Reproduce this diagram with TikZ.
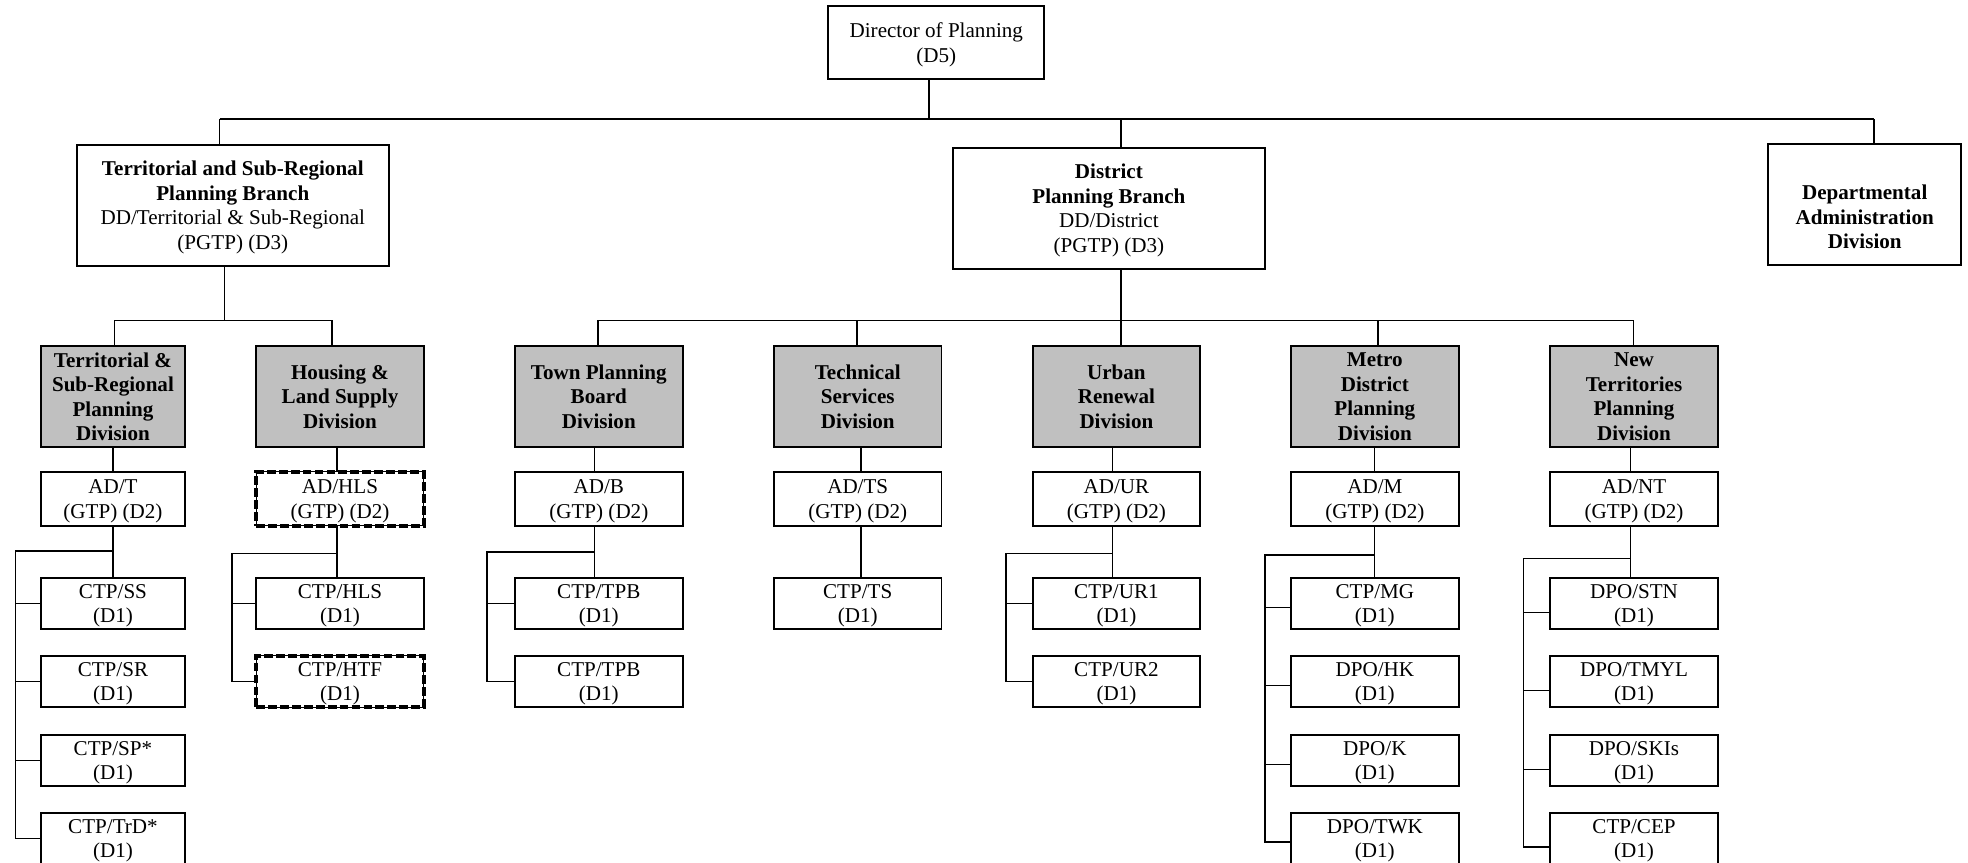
\documentclass[tikz,border=0pt]{standalone}
\usepackage{fontspec}
\setmainfont{Liberation Serif}
\definecolor{divgray}{HTML}{C0C0C0}
\newcommand{\fsz}{\fontsize{16.8}{19.5}\selectfont}
\begin{document}
\begin{tikzpicture}[x=1pt,y=-1pt,
  box/.style={draw, line width=1.5pt, inner sep=0pt, align=center, font=\fsz, fill=white},
  divbox/.style={box, fill=divgray, font=\fsz\bfseries, minimum width=133.5pt, minimum height=80pt},
  adbox/.style={box, minimum width=133.5pt, minimum height=43pt, text depth=-8pt},
  dbox/.style={box, minimum width=133.5pt, minimum height=41pt, text depth=-5pt},
  hatched/.style={line width=0.8pt, postaction={draw, line width=3.5pt, dash pattern=on 7pt off 2.5pt}},
  conn/.style={line width=1.2pt},
  bus/.style={line width=2pt}]
\useasboundingbox (0,0) rectangle (1568,687);

% ---- top level
\node[box, minimum width=172pt, minimum height=58pt, text depth=0.5pt] (dir) at (746,34) {Director of Planning\\(D5)};
\node[box, minimum width=249pt, minimum height=96pt, text depth=-2pt] (tsrb) at (185.5,163.6)
  {\textbf{Territorial and Sub-Regional}\\\textbf{Planning Branch}\\DD/Territorial \& Sub-Regional\\(PGTP) (D3)};
\node[box, minimum width=249pt, minimum height=96pt, text depth=-1.5pt] (dpb) at (883.5,166)
  {\textbf{District}\\\textbf{Planning Branch}\\DD/District\\(PGTP) (D3)};
\node[box, minimum width=153.5pt, minimum height=96pt] (dept) at (1485.7,163) {};
\node[font=\fsz\bfseries, align=center, inner sep=0pt] (deptlbl) at ([yshift=-10pt]dept.center)
  {Departmental\\Administration\\Division};

% ---- divisions
\node[divbox, minimum width=114.6pt] (tsrd) at (90,316) {Territorial \&\\Sub-Regional\\Planning\\Division};
\node[divbox] (hlsd) at (270.9,316) {Housing \&\\Land Supply\\Division};
\node[divbox] (tpbd) at (477.1,316) {Town Planning\\Board\\Division};
\node[divbox] (tsd) at (683.4,316) {Technical\\Services\\Division};
\node[divbox] (urd) at (889.5,316) {Urban\\Renewal\\Division};
\node[divbox] (md) at (1095.4,316) {Metro\\District\\Planning\\Division};
\node[divbox] (ntd) at (1301.9,316) {New\\Territories\\Planning\\Division};

% ---- AD row
\node[adbox, minimum width=114.6pt] (adt) at (90,397.5) {AD/T\\(GTP) (D2)};
\node[adbox, hatched] (adhls) at (270.9,397.5) {AD/HLS\\(GTP) (D2)};
\node[adbox] (adb) at (477.1,397.5) {AD/B\\(GTP) (D2)};
\node[adbox] (adts) at (683.4,397.5) {AD/TS\\(GTP) (D2)};
\node[adbox] (adur) at (889.5,397.5) {AD/UR\\(GTP) (D2)};
\node[adbox] (adm) at (1095.4,397.5) {AD/M\\(GTP) (D2)};
\node[adbox] (adnt) at (1301.9,397.5) {AD/NT\\(GTP) (D2)};

% ---- D1 rows
\node[dbox, minimum width=114.6pt] (ss) at (90,481) {CTP/SS\\(D1)};
\node[dbox, minimum width=114.6pt] (sr) at (90,543) {CTP/SR\\(D1)};
\node[dbox, minimum width=114.6pt] (sp) at (90,606) {CTP/SP*\\(D1)};
\node[dbox, minimum width=114.6pt] (trd) at (90,668) {CTP/TrD*\\(D1)};

\node[dbox] (chls) at (270.9,481) {CTP/HLS\\(D1)};
\node[dbox, hatched] (htf) at (270.9,543) {CTP/HTF\\(D1)};

\node[dbox] (tpba) at (477.1,481) {CTP/TPB\\(D1)};
\node[dbox] (tpbb) at (477.1,543) {CTP/TPB\\(D1)};

\node[dbox] (cts) at (683.4,481) {CTP/TS\\(D1)};

\node[dbox] (ura) at (889.5,481) {CTP/UR1\\(D1)};
\node[dbox] (urb) at (889.5,543) {CTP/UR2\\(D1)};

\node[dbox] (mg) at (1095.4,481) {CTP/MG\\(D1)};
\node[dbox] (hk) at (1095.4,543) {DPO/HK\\(D1)};
\node[dbox] (kk) at (1095.4,606) {DPO/K\\(D1)};
\node[dbox] (twk) at (1095.4,668) {DPO/TWK\\(D1)};

\node[dbox] (stn) at (1301.9,481) {DPO/STN\\(D1)};
\node[dbox] (tmyl) at (1301.9,543) {DPO/TMYL\\(D1)};
\node[dbox] (skis) at (1301.9,606) {DPO/SKIs\\(D1)};
\node[dbox] (cep) at (1301.9,668) {CTP/CEP\\(D1)};

% ---- top connectors
\coordinate (t1) at (175,95);
\coordinate (t2) at (1493,95);
\coordinate (xdir) at (740,95);
\coordinate (xdpb) at (893,95);
\draw[bus] (t1) -- (t2);
\draw[conn] (dir.south -| xdir) -- (xdir);
\draw[conn] (t1) -- (tsrb.north -| t1);
\draw[conn] (xdpb) -- (dpb.north -| xdpb);
\draw[conn] (t2) -- (dept.north -| t2);

% ---- branch to divisions
\coordinate (b1a) at (91.4,255.5);
\coordinate (b1b) at (264.6,255.5);
\coordinate (b1m) at (179,255.5);
\draw[conn] (tsrb.south -| b1m) -- (b1m);
\draw[conn] (tsrd.north -| b1a) -- (b1a) -- (b1b) -- (hlsd.north -| b1b);

\coordinate (b2a) at (476.5,255.5);
\coordinate (b2b) at (1301.6,255.5);
\coordinate (b2m) at (893,255.5);
\coordinate (b2ts) at (683,255.5);
\coordinate (b2md) at (1098,255.5);
\draw[conn] (dpb.south -| b2m) -- (urd.north -| b2m);
\draw[conn] (tpbd.north -| b2a) -- (b2a) -- (b2b) -- (ntd.north -| b2b);
\draw[conn] (b2ts) -- (tsd.north -| b2ts);
\draw[conn] (b2md) -- (md.north -| b2md);

% ---- column connectors
\coordinate (cT) at (90,0);
\coordinate (cH) at (268.5,0);
\coordinate (cB) at (473.5,0);
\coordinate (cS) at (686,0);
\coordinate (cU) at (886.5,0);
\coordinate (cM) at (1095,0);
\coordinate (cN) at (1299,0);

\draw[conn] (tsrd.south -| cT) -- (adt.north -| cT);
\draw[conn] (hlsd.south -| cH) -- (adhls.north -| cH);
\draw[conn] (tpbd.south -| cB) -- (adb.north -| cB);
\draw[conn] (tsd.south -| cS) -- (adts.north -| cS);
\draw[conn] (urd.south -| cU) -- (adur.north -| cU);
\draw[conn] (md.south -| cM) -- (adm.north -| cM);
\draw[conn] (ntd.south -| cN) -- (adnt.north -| cN);

\draw[conn] (adt.south -| cT) -- (ss.north -| cT);
\draw[conn] (adhls.south -| cH) -- (chls.north -| cH);
\draw[conn] (adb.south -| cB) -- (tpba.north -| cB);
\draw[conn] (adts.south -| cS) -- (cts.north -| cS);
\draw[conn] (adur.south -| cU) -- (ura.north -| cU);
\draw[conn] (adm.south -| cM) -- (mg.north -| cM);
\draw[conn] (adnt.south -| cN) -- (stn.north -| cN);

% ---- side buses
\coordinate (bT) at (12.4,439);
\draw[conn] (bT -| cT) -- (bT) |- (trd.west);
\foreach \n in {ss,sr,sp} \draw[conn] (bT |- \n.west) -- (\n.west);

\coordinate (bH) at (185,441);
\draw[conn] (bH -| cH) -- (bH) |- (htf.west);
\draw[conn] (bH |- chls.west) -- (chls.west);

\coordinate (bB) at (388,440);
\draw[conn] (bB -| cB) -- (bB) |- (tpbb.west);
\draw[conn] (bB |- tpba.west) -- (tpba.west);

\coordinate (bU) at (801.5,441);
\draw[conn] (bU -| cU) -- (bU) |- (urb.west);
\draw[conn] (bU |- ura.west) -- (ura.west);

\coordinate (bM) at (1008,442);
\draw[conn] (bM -| cM) -- (bM) |- ([yshift=-3pt]twk.west);
\foreach \n in {mg,hk,kk} {
  \coordinate (mstub) at ([yshift=-3pt]\n.west);
  \draw[conn] (bM |- mstub) -- (mstub);
}

\coordinate (bN) at (1213.7,445);
\draw[conn] (bN -| cN) -- (bN) |- ([yshift=-7pt]cep.west);
\foreach \n in {stn,tmyl,skis} {
  \coordinate (nstub) at ([yshift=-7pt]\n.west);
  \draw[conn] (bN |- nstub) -- (nstub);
}
\end{tikzpicture}
\end{document}
